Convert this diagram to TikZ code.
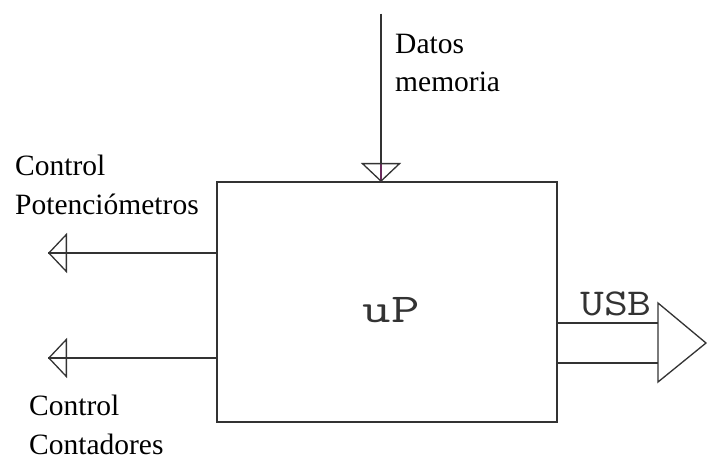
\documentclass[tikz,border=0pt]{standalone}
\usepackage{fontspec}
\setmainfont{Liberation Serif}
\usetikzlibrary{arrows.meta}
\definecolor{wirec}{HTML}{333333}
\definecolor{memc}{HTML}{6A2A5B}
\begin{document}
\begin{tikzpicture}[x=1pt,y=-1pt,
  wire/.style={draw=wirec, line width=1.6pt},
  memwire/.style={draw=memc, line width=1.3pt},
  openhead/.style={-{Triangle[open, length=19pt, width=40pt, line width=1.3pt]}},
  lbl/.style={font=\fontsize{29.5}{38.5}\selectfont, align=left, inner sep=0pt, anchor=north west, text=black},
  monolbl/.style={font=\ttfamily\fontsize{41}{41}\selectfont, inner sep=0pt, anchor=base, text=wirec}]
\useasboundingbox (0,0) rectangle (707,457);
\fill[white] (0,0) rectangle (707,457);
% processor box
\node[wire, minimum width=340pt, minimum height=240pt, inner sep=0pt, outer sep=0pt] (up) at (387,302) {};
\node[monolbl] (uplabel) at (391,322) {\scalebox{1.35}[1]{uP}};
% memory data input
\coordinate (memin) at (381,14);
\coordinate (memtip) at (up.north -| memin);
\draw[memwire] (memin) -- (memtip);
\draw[memwire, draw=black!80, openhead] (memin) -- (memtip);
\node[lbl] (memlabel) at (395,33.5) {Datos\\memoria};
% potentiometer control
\coordinate (pottip) at (48,253);
\coordinate (potsrc) at (up.west |- pottip);
\draw[wire] (potsrc) -- (pottip);
\draw[wire, openhead] (potsrc) -- (pottip);
\node[lbl] (potlabel) at (15,155) {Control\\Potenciómetros};
% counters control
\coordinate (cnttip) at (48,358);
\coordinate (cntsrc) at (up.west |- cnttip);
\draw[wire] (cntsrc) -- (cnttip);
\draw[wire, openhead] (cntsrc) -- (cnttip);
\node[lbl] (cntlabel) at (29,395) {Control\\Contadores};
% USB bus
\coordinate (usba) at (658,323);
\coordinate (usbb) at (658,363);
\coordinate (usbtop) at (658,303);
\coordinate (usbbot) at (658,382);
\coordinate (usbtip) at (706,343);
\draw[wire] (up.east |- usba) -- (usba);
\draw[wire] (up.east |- usbb) -- (usbb);
\draw[wire, line width=1.3pt, line join=miter] (usbtop) -- (usbtip) -- (usbbot) -- cycle;
\node[monolbl, font=\ttfamily\fontsize{38}{38}\selectfont] (usblabel) at (616,315) {\scalebox{1.22}[1]{USB}};
\end{tikzpicture}
\end{document}
